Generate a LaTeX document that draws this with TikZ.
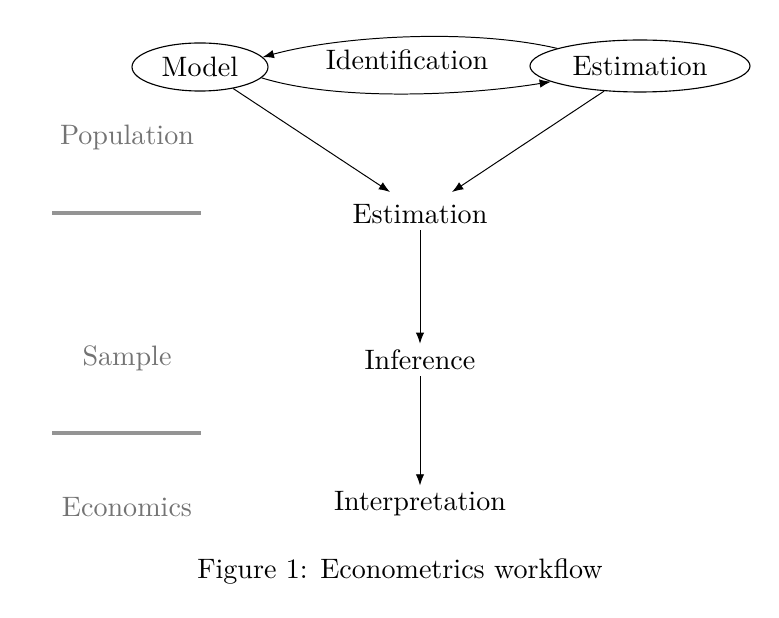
\documentclass[tikz,border=0pt]{standalone}
\usetikzlibrary{arrows.meta,shapes.geometric}
\begin{document}
\begin{tikzpicture}[x=0.3559pt,y=-0.3559pt,
  every node/.style={inner sep=0pt},
  lbl/.style={text=black!55},
  sep/.style={draw=black!42,line width=1.4pt},
  arr/.style={-{Latex[length=4pt,width=3pt]},line width=0.35pt}]
\useasboundingbox (0,0) rectangle (779,618);
\node[draw,ellipse,minimum width=48.4pt,minimum height=17.1pt] (model) at (200,67) {Model};
\node[draw,ellipse,minimum width=78.3pt,minimum height=18.5pt] (est1) at (640,66) {Estimation};
\node (ident) at (407,60) {Identification};
\node[inner sep=2pt] (est2) at (420,214) {Estimation};
\node[inner sep=2pt] (inf) at (420,360) {Inference};
\node[inner sep=2pt] (interp) at (420,504) {Interpretation};
\node[lbl] (pop) at (127,137) {Population};
\node[lbl] (samp) at (127,358) {Sample};
\node[lbl] (econ) at (127,507) {Economics};
\coordinate (l1a) at (52,213); \coordinate (l1b) at (201,213);
\coordinate (l2a) at (52,433); \coordinate (l2b) at (201,433);
\coordinate (e2l) at (390,192); \coordinate (e2r) at (452,192);
\draw[sep] (l1a) -- (l1b);
\draw[sep] (l2a) -- (l2b);
\draw[arr] (est1.168) .. controls (470,28) and (340,36) .. (model.9);
\draw[arr] (model.-10) .. controls (340,102) and (470,95) .. (est1.-170);
\draw[arr] (model.-33) -- (e2l);
\draw[arr] (est1.-145) -- (e2r);
\draw[arr] (est2.south) -- (inf.north);
\draw[arr] (inf.south) -- (interp.north);
\node (cap) at (400,571) {Figure 1: Econometrics workflow};
\end{tikzpicture}
\end{document}
